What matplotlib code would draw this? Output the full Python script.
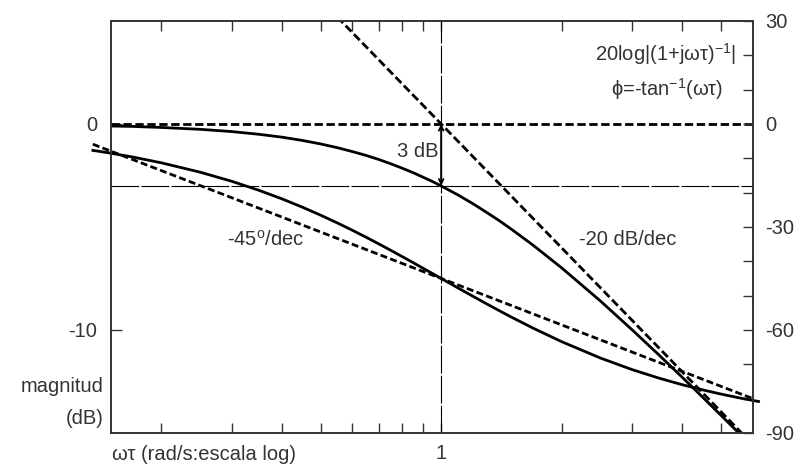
import matplotlib
matplotlib.use('Agg')
import matplotlib.pyplot as plt
import numpy as np

plt.rcParams['font.family'] = ['Liberation Sans', 'DejaVu Sans']
plt.rcParams['mathtext.fontset'] = 'custom'
plt.rcParams['mathtext.rm'] = 'Liberation Sans'
plt.rcParams['mathtext.it'] = 'Liberation Sans'

# magnitud |H| en dB
w_mag = [0.15, 0.17, 0.2, 0.25, 0.3, 0.35, 0.4, 0.45, 0.5, 0.55, 0.6, 0.65, 0.7, 0.75, 0.8,
         0.85, 0.9, 0.95, 1.0, 1.1, 1.2, 1.3, 1.4, 1.5, 1.7, 2.0, 2.5, 3.0, 3.5, 4.0, 4.5,
         5.0, 5.5, 6.0]
mag_db = [-0.10, -0.12, -0.17, -0.26, -0.37, -0.50, -0.64, -0.80, -0.97, -1.15, -1.34,
          -1.53, -1.73, -1.94, -2.15, -2.36, -2.58, -2.79, -3.01, -3.44, -3.87, -4.30,
          -4.71, -5.12, -5.90, -6.99, -8.60, -10.0, -11.22, -12.30, -13.27, -14.15,
          -14.95, -15.68]

# fase en grados
w_fase = [0.135, 0.15, 0.17, 0.2, 0.25, 0.3, 0.35, 0.4, 0.45, 0.5, 0.55, 0.6, 0.65, 0.7,
          0.75, 0.8, 0.85, 0.9, 0.95, 1.0, 1.1, 1.2, 1.3, 1.4, 1.5, 1.7, 2.0, 2.5, 3.0,
          3.5, 4.0, 4.5, 5.0, 5.5, 6.0, 6.2]
fase_deg = [-7.7, -8.53, -9.65, -11.31, -14.04, -16.70, -19.29, -21.80, -24.23, -26.57,
            -28.81, -30.96, -33.02, -34.99, -36.87, -38.66, -40.36, -41.99, -43.53, -45.0,
            -47.73, -50.19, -52.43, -54.46, -56.31, -59.53, -63.43, -68.20, -71.57,
            -74.05, -75.96, -77.47, -78.69, -79.70, -80.54, -80.84]

# asíntotas
asin_plana_w = [0.15, 6.0]
asin_plana_db = [0, 0]
asin_mag_w = [0.5, 6.0]
asin_mag_db = [6.02, -15.56]
asin_fase_w = [0.135, 6.0]
asin_fase_deg = [-5.9, -80.0]

gris = '#333333'
fig = plt.figure(figsize=(8, 4.66), dpi=100)
ax = fig.add_axes([0.139, 0.071, 0.802, 0.884])
ax2 = ax.twinx()

ax.set_xscale('log')
ax.set_xlim(0.15, 6)
ax.set_ylim(-15, 5)
ax2.set_ylim(-90, 30)

dash = (3, 1.3)
ax.plot(w_mag, mag_db, color='black', lw=2.0)
ax.plot(asin_plana_w, asin_plana_db, color='black', lw=2.0, dashes=dash)
ax.plot(asin_mag_w, asin_mag_db, color='black', lw=2.0, dashes=dash)
ax2.plot(w_fase, fase_deg, color='black', lw=2.0, clip_on=False)
ax2.plot(asin_fase_w, asin_fase_deg, color='black', lw=2.0, dashes=(2.5, 1.2), clip_on=False)

# líneas de referencia
ax.axhline(-3, color='black', lw=0.8, ls=(0, (25, 2)))
ax.axvline(1, color='black', lw=0.8, ls=(0, (25, 2)))

ax.annotate('', xy=(1, 0), xytext=(1, -3),
            arrowprops=dict(arrowstyle='<->', color='black', lw=1.4,
                            mutation_scale=8, shrinkA=0, shrinkB=0))

fs = 14.5
ax.text(0.985, -1.35, '3 dB', ha='right', va='center', fontsize=fs, color=gris)
ax.text(0.365, -5.63, '-45$^{\\mathrm{o}}$/dec', ha='center', va='center', fontsize=fs, color=gris)
ax.text(2.92, -5.63, '-20 dB/dec', ha='center', va='center', fontsize=fs, color=gris)
ax.text(5.45, 3.4, '20log|(1+jωτ)$^{-1}$|', ha='right', va='center', fontsize=fs, color=gris)
ax.text(5.06, 1.7, 'ϕ=-tan$^{-1}$(ωτ)', ha='right', va='center', fontsize=fs, color=gris)

fig.text(104 / 800, 1 - 387 / 466, 'magnitud', ha='right', va='center', fontsize=fs, color=gris)
fig.text(104 / 800, 1 - 419 / 466, '(dB)', ha='right', va='center', fontsize=fs, color=gris)
fig.text(112 / 800, 1 - 454 / 466, 'ωτ (rad/s:escala log)', ha='left', va='center', fontsize=fs, color=gris)

# ejes
xticks = [0.2, 0.3, 0.4, 0.5, 0.6, 0.7, 0.8, 0.9, 1, 2, 3, 4, 5]
ax.set_xticks(xticks)
ax.set_xticks([], minor=True)
ax.set_xticklabels(['1' if t == 1 else '' for t in xticks])
ax.set_yticks([0, -10])
ax.set_yticklabels(['0', '-10'])
ax2.set_yticks(np.arange(-90, 31, 10), minor=True)
ax2.set_yticks([-90, -60, -30, 0, 30])
ax2.set_yticklabels(['-90', '-60', '-30', '0', '30'])

ax.tick_params(axis='x', which='both', direction='in', top=True, length=7,
               width=1, color=gris, labelsize=fs, labelcolor=gris, pad=8)
ax.tick_params(axis='y', direction='in', length=8, width=1, color=gris,
               labelsize=fs, labelcolor=gris, pad=10)
ax2.tick_params(axis='y', which='both', direction='in', length=7, width=1,
                color=gris, labelsize=fs, labelcolor=gris, pad=9)

for a in (ax, ax2):
    for s in a.spines.values():
        s.set_color(gris)
        s.set_linewidth(1.2)

fig.savefig('out.png', dpi=100)
